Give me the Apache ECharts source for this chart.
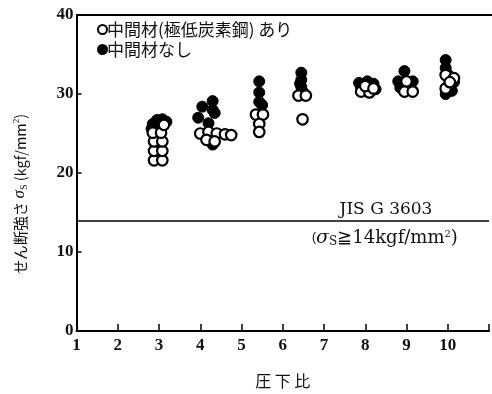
<!DOCTYPE html>
<html>
<head>
<meta charset="utf-8">
<script src="https://cdn.jsdelivr.net/npm/echarts@6/dist/echarts.min.js"></script>
<style>
html,body{margin:0;padding:0;background:#fff;}
#chart{width:492px;height:394px;}
</style>
</head>
<body>
<div id="chart"></div>
<script>
// 圧下比 ticks
const xTicks = [1, 2, 3, 4, 5, 6, 7, 8, 9, 10];
const yTicks = [0, 10, 20, 30, 40];

// 中間材(極低炭素鋼)あり : [圧下比, σS]
const withInterlayer = [
  [2.88, 21.6], [3.08, 21.6], [2.88, 22.8], [3.08, 22.8], [2.88, 24.0], [3.08, 24.0],
  [2.85, 25.1], [3.05, 25.1], [3.12, 26.1],
  [4.0, 25.0], [4.2, 25.2], [4.4, 25.0], [4.6, 24.9], [4.75, 24.8], [4.15, 24.2], [4.35, 24.0],
  [5.35, 27.4], [5.52, 27.4], [5.43, 26.2], [5.43, 25.2],
  [6.38, 29.8], [6.56, 29.8], [6.48, 26.8],
  [7.9, 30.3], [8.1, 30.2], [8.0, 31.0], [8.2, 30.7],
  [9.0, 31.6], [8.95, 30.3], [9.15, 30.3],
  [9.95, 32.4], [10.15, 32.0], [9.95, 30.7], [10.05, 31.5]
];

// 中間材なし : [圧下比, σS]
const withoutInterlayer = [
  [2.85, 26.2], [2.95, 26.7], [3.08, 26.8], [3.18, 26.5], [2.82, 25.6], [3.0, 25.9], [2.9, 25.2],
  [4.3, 29.1], [4.3, 28.0], [4.05, 28.4], [3.95, 27.0], [4.2, 26.3], [4.35, 27.6], [4.3, 23.6],
  [5.43, 31.6], [5.43, 30.2], [5.43, 29.0], [5.5, 28.6],
  [6.45, 32.7], [6.45, 31.8], [6.45, 30.9], [6.5, 30.2], [6.42, 31.3],
  [7.85, 31.4], [8.05, 31.6], [8.2, 31.3], [7.9, 30.8], [8.25, 30.6],
  [8.95, 32.9], [8.8, 31.6], [9.15, 31.6], [8.85, 30.8], [9.15, 30.4],
  [9.95, 34.3], [9.95, 33.3], [10.0, 32.5], [10.15, 31.5], [10.1, 30.4], [9.95, 30.0]
];

// JIS G 3603 minimum shear strength
const jisMin = 14;

const serif = '"Liberation Serif", "DejaVu Serif", serif';
const wideSerif = '"DejaVu Serif", "Liberation Serif", serif';
const jp = '"Noto Sans CJK JP", sans-serif';

const chart = echarts.init(document.getElementById('chart'), null, {renderer: 'canvas'});

chart.setOption({
  animation: false,
  backgroundColor: '#fff',
  grid: {left: 76.5, top: 15, width: 417, height: 320, show: false},
  xAxis: {
    type: 'value', min: 1, max: 11, interval: 1,
    name: '圧 下 比', nameLocation: 'middle', nameGap: 42,
    nameTextStyle: {fontFamily: jp, fontSize: 16, color: '#111'},
    axisLine: {show: true, onZero: false, lineStyle: {color: '#000', width: 2}},
    axisTick: {show: true, inside: true, length: 7, lineStyle: {color: '#000', width: 1.5}},
    axisLabel: {
      fontFamily: serif, fontSize: 17, fontWeight: 'bold', color: '#111', margin: 6,
      formatter: v => (xTicks.indexOf(v) >= 0 ? String(v) : '')
    },
    splitLine: {show: false}
  },
  yAxis: {
    type: 'value', min: 0, max: 40, interval: 10,
    axisLine: {show: true, lineStyle: {color: '#000', width: 2}},
    axisTick: {show: true, inside: true, length: 5, lineStyle: {color: '#000', width: 1.5}},
    axisLabel: {
      fontFamily: serif, fontSize: 17, fontWeight: 'bold', color: '#111', margin: 3,
      formatter: v => (yTicks.indexOf(v) >= 0 ? String(v) : '')
    },
    splitLine: {show: false}
  },
  legend: {
    left: 92, top: 16, orient: 'vertical', itemGap: 3,
    itemWidth: 9, itemHeight: 9,
    textStyle: {fontFamily: jp, fontSize: 17, color: '#111', padding: [0, 0, 0, -5]},
    data: [
      {name: '中間材(極低炭素鋼) あり', icon: 'circle',
       itemStyle: {color: '#fff', borderColor: '#000', borderWidth: 2}},
      {name: '中間材なし', icon: 'circle', itemStyle: {color: '#000'}}
    ]
  },
  series: [
    {
      name: '中間材なし', type: 'scatter', symbol: 'circle', symbolSize: 11,
      itemStyle: {color: '#000', borderColor: '#000', borderWidth: 1, opacity: 1},
      data: withoutInterlayer, z: 2,
      markLine: {
        silent: true, symbol: 'none', animation: false,
        lineStyle: {color: '#000', width: 1.5, type: 'solid'},
        label: {show: false},
        data: [{yAxis: jisMin}]
      }
    },
    {
      name: '中間材(極低炭素鋼) あり', type: 'scatter', symbol: 'circle', symbolSize: 10.5,
      itemStyle: {color: '#fff', borderColor: '#000', borderWidth: 2.2, opacity: 1},
      data: withInterlayer, z: 3
    }
  ],
  graphic: [
    {type: 'line', shape: {x1: 76, y1: 15, x2: 492, y2: 15}, style: {stroke: '#000', lineWidth: 2}},
    // y-axis title, rotated
    {type: 'text', x: 20, y: 194, rotation: Math.PI / 2,
     style: {
       text: '{t|せん断強さ }{i|σ}{s|S}{t| (kgf/mm}{p|2}{t|)}',
       align: 'center', verticalAlign: 'middle',
       rich: {
         t: {fontFamily: jp, fontSize: 14.5, fill: '#111'},
         i: {fontFamily: serif, fontSize: 17, fontStyle: 'italic', fill: '#111'},
         s: {fontFamily: serif, fontSize: 10, fill: '#111', padding: [8, 0, 0, 0]},
         p: {fontFamily: serif, fontSize: 9, fill: '#111', padding: [0, 0, 7, 0]}
       }
     }},
    {type: 'text', x: 386, y: 210,
     style: {text: 'JIS G 3603', font: '17px ' + wideSerif, fill: '#111',
             align: 'center', verticalAlign: 'middle'}},
    {type: 'text', x: 385, y: 238,
     style: {
       text: '({i|σ}{s|S}{t|≧14kgf/mm}{p|2}{t|)}',
       align: 'center', verticalAlign: 'middle',
       rich: {
         t: {fontFamily: wideSerif, fontSize: 18, fill: '#111'},
         i: {fontFamily: wideSerif, fontSize: 19, fontStyle: 'italic', fill: '#111'},
         s: {fontFamily: wideSerif, fontSize: 12, fill: '#111', padding: [8, 0, 0, 0]},
         p: {fontFamily: wideSerif, fontSize: 10, fill: '#111', padding: [0, 0, 7, 0]}
       }
     }}
  ]
});
</script>
</body>
</html>
